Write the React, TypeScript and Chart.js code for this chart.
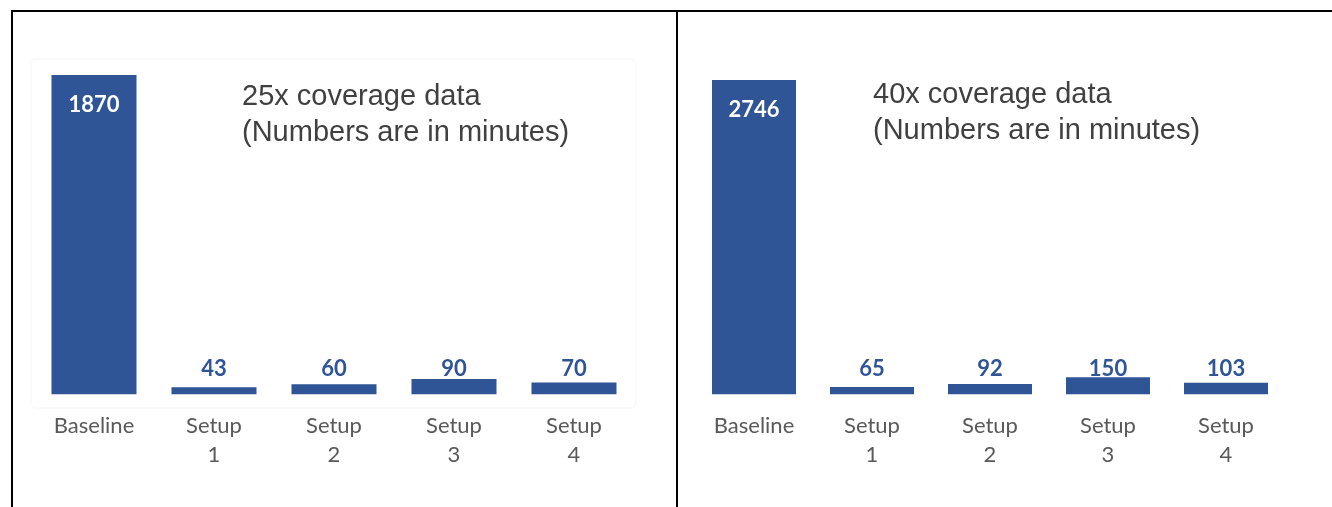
import React, { useEffect, useRef } from "react";
import { Chart, registerables } from "chart.js";

Chart.register(...registerables);

const categories: string[][] = [["Baseline"], ["Setup", "1"], ["Setup", "2"], ["Setup", "3"], ["Setup", "4"]];
const values25x: number[] = [1870, 43, 60, 90, 70];
const values40x: number[] = [2746, 65, 92, 150, 103];
const title25x: string[] = ["25x coverage data", "(Numbers are in minutes)"];
const title40x: string[] = ["40x coverage data", "(Numbers are in minutes)"];

const BAR = "#2F5597";

const labelPlugin = {
  id: "barLabels",
  afterDatasetsDraw(chart: any) {
    const ctx = chart.ctx;
    const meta = chart.getDatasetMeta(0);
    const data = chart.data.datasets[0].data as number[];
    ctx.save();
    ctx.font = "bold 22px Lato";
    ctx.textAlign = "center";
    ctx.textBaseline = "middle";
    meta.data.forEach((bar: any, i: number) => {
      if (i === 0) {
        ctx.fillStyle = "#ffffff";
        ctx.fillText(String(data[i]), bar.x, bar.y + 30);
      } else {
        ctx.fillStyle = BAR;
        ctx.fillText(String(data[i]), bar.x, chart.chartArea.bottom - 26);
      }
    });
    ctx.restore();
  },
};

function BarPanel(props: {
  values: number[];
  left: number;
  width: number;
  padLeft: number;
  padRight: number;
  padTop: number;
  barPct: number;
}) {
  const ref = useRef<HTMLCanvasElement | null>(null);
  useEffect(() => {
    if (!ref.current) return;
    const chart = new Chart(ref.current, {
      type: "bar",
      data: {
        labels: categories,
        datasets: [
          {
            data: props.values,
            backgroundColor: BAR,
            borderWidth: 0,
            categoryPercentage: 1,
            barPercentage: props.barPct,
          },
        ],
      },
      options: {
        animation: false,
        responsive: false,
        maintainAspectRatio: false,
        layout: { padding: { left: props.padLeft, right: props.padRight, top: props.padTop, bottom: 20 } },
        plugins: { legend: { display: false }, tooltip: { enabled: false }, title: { display: false } },
        scales: {
          x: {
            grid: { display: false, drawTicks: false },
            border: { display: false },
            ticks: {
              color: "#595959",
              font: { family: "Lato", size: 22, lineHeight: 1.33 },
              padding: 17,
              maxRotation: 0,
              autoSkip: false,
            },
          },
          y: { display: false, min: 0, max: props.values[0] },
        },
      },
      plugins: [labelPlugin],
    });
    return () => chart.destroy();
  }, []);
  return (
    <canvas
      ref={ref}
      width={props.width}
      height={495}
      style={{ position: "absolute", left: props.left, top: 12, width: props.width, height: 495 }}
    />
  );
}

const titleStyle: React.CSSProperties = {
  position: "absolute",
  fontFamily: "'Liberation Sans', Arial, sans-serif",
  fontSize: 29,
  lineHeight: "36px",
  color: "#404040",
  whiteSpace: "nowrap",
};

export default function App() {
  return (
    <div style={{ position: "absolute", left: 0, top: 0, width: 1332, height: 507, background: "#fff", overflow: "hidden" }}>
      <div style={{ position: "absolute", left: 11, top: 10, width: 1321, height: 2, background: "#000" }} />
      <div style={{ position: "absolute", left: 11, top: 10, width: 2, height: 497, background: "#000" }} />
      <div style={{ position: "absolute", left: 676, top: 10, width: 2, height: 497, background: "#000" }} />
      <div
        style={{
          position: "absolute",
          left: 30,
          top: 58,
          width: 607,
          height: 351,
          border: "2px solid #fafafa",
          borderRadius: 6,
          boxSizing: "border-box",
        }}
      />
      <BarPanel values={values25x} left={13} width={663} padLeft={21} padRight={42} padTop={63} barPct={85 / 120} />
      <BarPanel values={values40x} left={678} width={654} padLeft={17} padRight={47} padTop={68} barPct={84 / 118} />
      <div style={{ ...titleStyle, left: 242, top: 77 }}>
        {title25x[0]}
        <br />
        {title25x[1]}
      </div>
      <div style={{ ...titleStyle, left: 873, top: 75 }}>
        {title40x[0]}
        <br />
        {title40x[1]}
      </div>
    </div>
  );
}
